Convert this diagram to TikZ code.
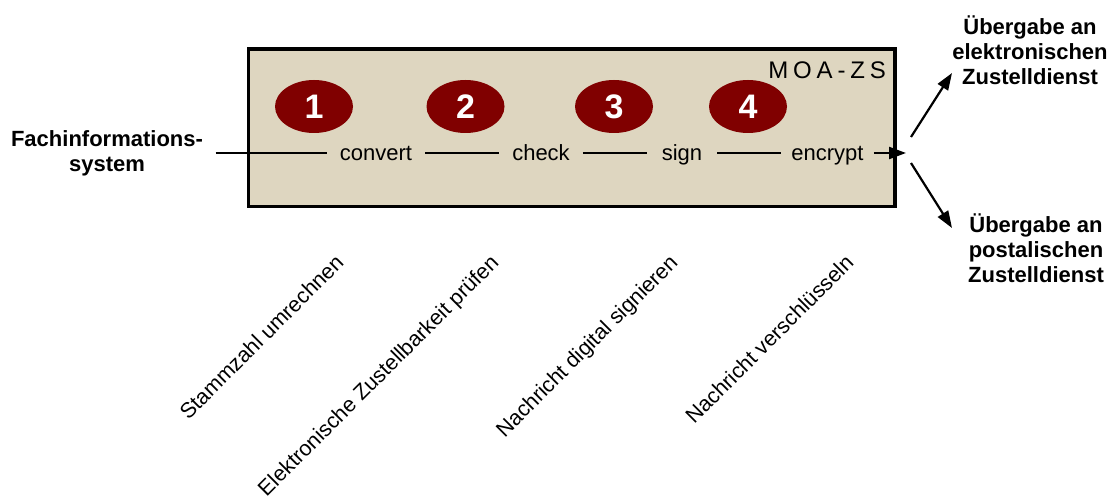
\documentclass[tikz,border=0pt]{standalone}
\usepackage{fontspec}
\setmainfont{Liberation Sans}
\usetikzlibrary{arrows.meta,shapes.geometric}
\definecolor{boxfill}{RGB}{222,214,192}
\definecolor{badge}{RGB}{128,0,0}

\begin{document}
\begin{tikzpicture}[x=1pt,y=-1pt,
  stage/.style={font=\fontsize{22}{25}\selectfont, text height=16pt, text depth=1pt,
                inner ysep=0pt, inner xsep=13pt},
  badgenum/.style={ellipse, fill=badge, minimum width=78pt, minimum height=53pt,
                   inner sep=0pt, text=white, font=\fontsize{34}{34}\selectfont\bfseries},
  steplabel/.style={rotate=45, anchor=base east, inner sep=0pt,
                    font=\fontsize{21.5}{24}\selectfont},
  endpoint/.style={align=center, inner sep=0pt, font=\fontsize{22}{25}\selectfont\bfseries},
  flow/.style={line width=2.2pt},
  tip/.style={-{Triangle[length=17pt,width=12pt]}}]

\useasboundingbox (0,0) rectangle (1117,497);

% system frame
\draw[fill=boxfill, line width=3.5pt] (248.5,49) rectangle (895,206.5);
\node[anchor=base east, inner sep=0pt,
      font=\fontsize{24}{24}\selectfont\addfontfeature{LetterSpace=20}] (title) at (886,79) {MOA-ZS};

% numbered steps
\node[badgenum] (b1) at (314,106.5) {1};
\node[badgenum] (b2) at (465.5,106.5) {2};
\node[badgenum] (b3) at (614,106.5) {3};
\node[badgenum] (b4) at (748,106.5) {4};

% processing chain
\node[endpoint, inner xsep=12.5pt] (fis) at (107,153) {Fachinformations-\\system};
\node[stage] (convert) at (376,153) {convert};
\node[stage] (check) at (541,153) {check};
\node[stage, inner xsep=15pt] (sign) at (682,153) {sign};
\node[stage, inner xsep=10pt] (encrypt) at (827.5,153) {encrypt};
\coordinate (split) at (906,153);

\draw[flow] (fis.east) -- (convert.west);
\draw[flow] (convert.east) -- (check.west);
\draw[flow] (check.east) -- (sign.west);
\draw[flow] (sign.east) -- (encrypt.west);
\draw[flow, tip] (encrypt.east) -- (split);

% delivery targets
\node[endpoint, anchor=south] (elec) at (1030,85) {Übergabe an\\elektronischen\\Zustelldienst};
\node[endpoint, anchor=south] (post) at (1036,283) {Übergabe an\\postalischen\\Zustelldienst};
\coordinate (upfrom) at (911,137);
\coordinate (upto) at (952,73);
\coordinate (downfrom) at (911,163);
\coordinate (downto) at (952,228);
\draw[flow, tip] (upfrom) -- (upto);
\draw[flow, tip] (downfrom) -- (downto);

% step descriptions
\node[steplabel] (l1) at (345,264) {Stammzahl umrechnen};
\node[steplabel] (l2) at (500,264) {Elektronische Zustellbarkeit prüfen};
\node[steplabel] (l3) at (679,264) {Nachricht digital signieren};
\node[steplabel] (l4) at (855,264) {Nachricht verschlüsseln};
\end{tikzpicture}
\end{document}
